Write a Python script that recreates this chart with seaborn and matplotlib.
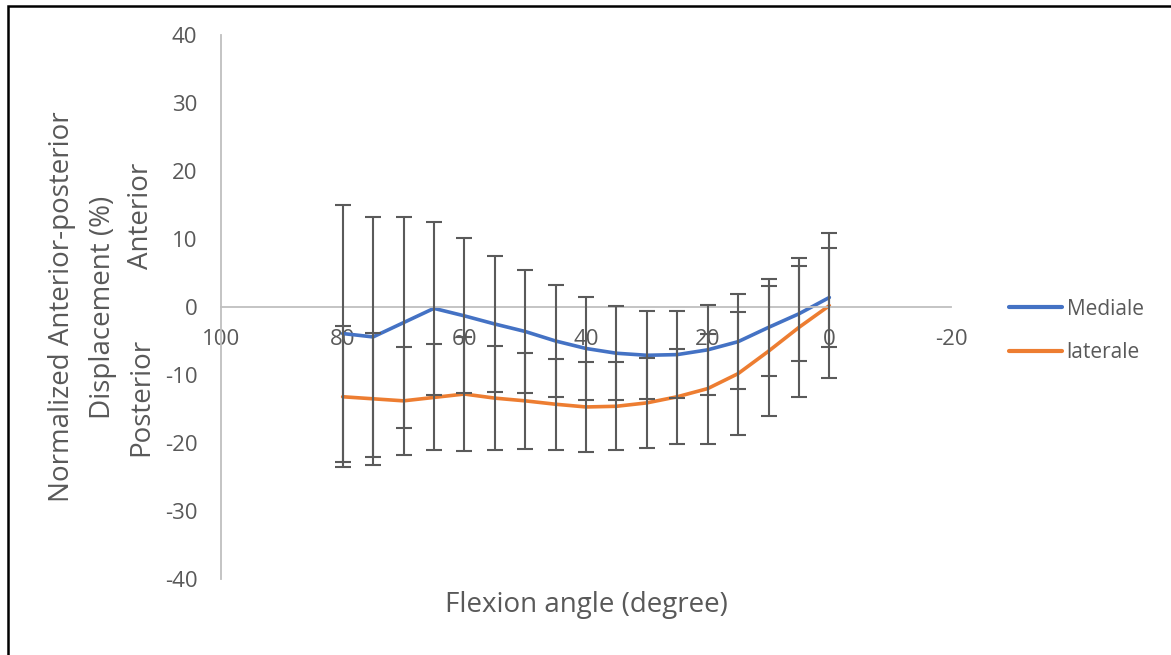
import matplotlib
matplotlib.use("Agg")
import matplotlib.pyplot as plt
from matplotlib.patches import Rectangle
from matplotlib.transforms import blended_transform_factory
import seaborn as sns
import pandas as pd

# Flexion angle (degrees) and normalized AP displacement (% , mean and SD)
angles = [80, 75, 70, 65, 60, 55, 50, 45, 40, 35, 30, 25, 20, 15, 10, 5, 0]
mediale = [-3.9, -4.4, -2.3, -0.2, -1.3, -2.5, -3.6, -5.0, -6.1, -6.8, -7.1,
           -7.0, -6.3, -5.1, -3.0, -1.0, 1.4]
mediale_sd = [18.9, 17.6, 15.5, 12.7, 11.4, 10.0, 9.0, 8.3, 7.6, 6.9, 6.5,
              6.4, 6.6, 7.0, 7.1, 7.0, 7.3]
laterale = [-13.2, -13.5, -13.8, -13.3, -12.8, -13.4, -13.8, -14.3, -14.7,
            -14.6, -14.1, -13.2, -12.0, -9.8, -6.5, -3.0, 0.2]
laterale_sd = [10.4, 9.7, 7.9, 7.8, 8.4, 7.7, 7.1, 6.7, 6.6, 6.5, 6.6, 7.0,
               8.1, 9.0, 9.6, 10.2, 10.7]

series_names = ["Mediale", "laterale"]
x_ticks = [100, 80, 60, 40, 20, 0, -20]
y_ticks = [-40, -30, -20, -10, 0, 10, 20, 30, 40]

df = pd.concat([
    pd.DataFrame({"angle": angles, "disp": mediale, "sd": mediale_sd,
                  "side": series_names[0]}),
    pd.DataFrame({"angle": angles, "disp": laterale, "sd": laterale_sd,
                  "side": series_names[1]}),
], ignore_index=True)

sns.set_theme(style="white")
plt.rcParams["font.family"] = ["Open Sans", "DejaVu Sans"]
plt.rcParams["axes.unicode_minus"] = False

TXT = "#595959"
AXIS = "#BFBFBF"
palette = {"Mediale": "#4472C4", "laterale": "#ED7D31"}
TICK_FS = 16
TITLE_FS = 20

fig = plt.figure(figsize=(11.71, 6.55), dpi=100)
ax = fig.add_axes([221 / 1171, 1 - 579 / 655, (951 - 221) / 1171, (579 - 35) / 655])

sns.lineplot(data=df, x="angle", y="disp", hue="side", palette=palette,
             linewidth=2.6, ax=ax, zorder=2, legend=True)

for name in series_names:
    sub = df[df["side"] == name]
    ax.errorbar(sub["angle"], sub["disp"], yerr=sub["sd"], fmt="none",
                ecolor="#5A5A5A", elinewidth=1.5, capsize=5.5, capthick=1.5,
                zorder=3)

ax.set_xlim(100, -20)
ax.set_ylim(-40, 40)
ax.set_xticks(x_ticks)
ax.set_yticks(y_ticks)
ax.set_xlabel("")
ax.set_ylabel("")

for s in ["top", "right"]:
    ax.spines[s].set_visible(False)
ax.spines["bottom"].set_position(("data", 0))
for s in ["left", "bottom"]:
    ax.spines[s].set_color(AXIS)
    ax.spines[s].set_linewidth(1.3)
ax.tick_params(axis="x", length=0, pad=16, labelsize=TICK_FS, colors=TXT)
ax.tick_params(axis="y", length=0, pad=17, labelsize=TICK_FS, colors=TXT)
for lab in ax.get_xticklabels() + ax.get_yticklabels():
    lab.set_color(TXT)

# Axis titles
fig.text((443 + 730) / 2 / 1171, 1 - 605 / 655, "Flexion angle (degree)",
         ha="center", va="center", fontsize=TITLE_FS, color=TXT)
yc = 1 - 307 / 655
fig.text(62 / 1171, yc, "Normalized Anterior-posterior", rotation=90,
         ha="center", va="center", fontsize=TITLE_FS, color=TXT)
fig.text(103 / 1171, yc, "Displacement (%)", rotation=90,
         ha="center", va="center", fontsize=TITLE_FS, color=TXT)
bt = blended_transform_factory(fig.transFigure, ax.transData)
fig.text(141 / 1171, -13.2, "Posterior", rotation=90, ha="center", va="center",
         fontsize=TITLE_FS, color=TXT, transform=bt)
fig.text(141 / 1171, 13.4, "Anterior", rotation=90, ha="center", va="center",
         fontsize=TITLE_FS, color=TXT, transform=bt)

# Legend on the right
handles, labels = ax.get_legend_handles_labels()
ax.get_legend().remove()
leg = fig.legend(handles, labels, loc="center left",
                 bbox_to_anchor=(1001 / 1171, 1 - 331 / 655), frameon=False,
                 fontsize=15, handlelength=2.55, handletextpad=0.2,
                 labelspacing=1.1, borderaxespad=0)
for t in leg.get_texts():
    t.set_color(TXT)
for h in leg.get_lines():
    h.set_linewidth(3)

# Outer frame
fig.patches.append(Rectangle((7.5 / 1171, -0.5), 1.5, 1.5 - 5.7 / 655,
                             transform=fig.transFigure, fill=False,
                             edgecolor="black", linewidth=1.8, clip_on=False))

fig.savefig("out.png", dpi=100)
